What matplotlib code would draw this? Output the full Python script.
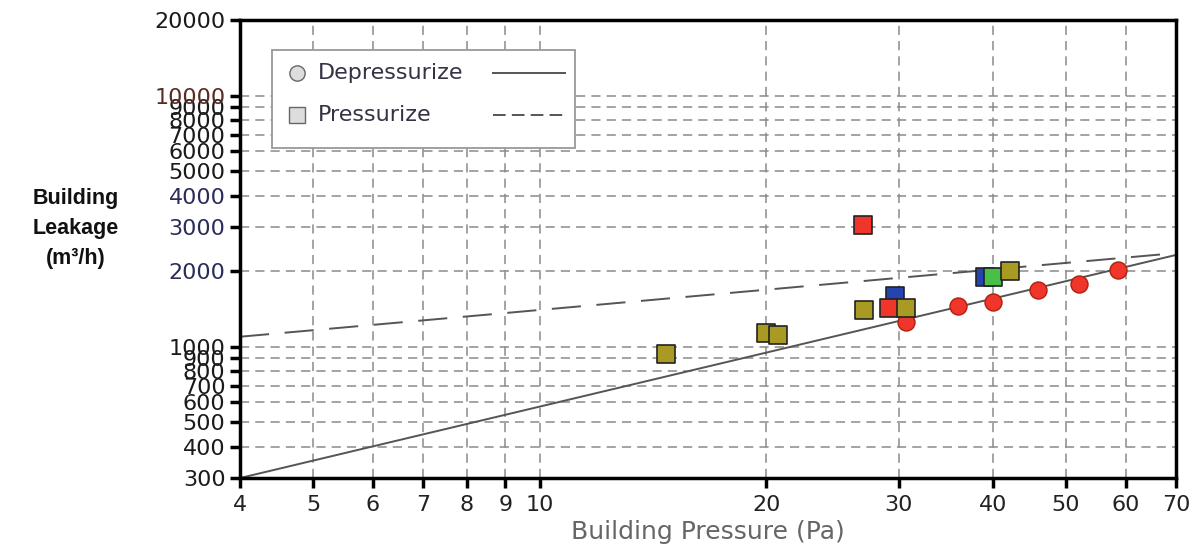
import matplotlib
matplotlib.use("Agg")
import matplotlib.pyplot as plt
from matplotlib.lines import Line2D
from matplotlib.patches import Rectangle

# Data
dep_x = [30.7, 35.9, 40.0, 45.9, 52.0, 58.6]
dep_y = [1255, 1453, 1508, 1683, 1779, 2021]

press_x = [14.7, 20.0, 20.7, 27.0, 29.6, 39.0, 40.0, 26.9, 29.1, 30.7, 42.1]
press_y = [935, 1135, 1113, 1400, 1594, 1900, 1900, 3055, 1428, 1428, 2000]
press_c = ['#a89a22', '#a89a22', '#a89a22', '#a89a22', '#2444b0', '#2444b0',
           '#48c048', '#f0352a', '#f0352a', '#a89a22', '#a89a22']

# fitted power-law lines (end points)
dep_fit_x = [4, 70]
dep_fit_y = [300, 2320]
press_fit_x = [4, 70]
press_fit_y = [1096, 2360]

xticks = [4, 5, 6, 7, 8, 9, 10, 20, 30, 40, 50, 60, 70]
yticks = [300, 400, 500, 600, 700, 800, 900, 1000, 2000, 3000, 4000, 5000,
          6000, 7000, 8000, 9000, 10000, 20000]
ytick_colors = {2000: '#2a2c5c', 3000: '#2a2c5c', 4000: '#2a2c5c', 10000: '#5a2a22'}

fig = plt.figure(figsize=(11.99, 5.46), dpi=100)
ax = fig.add_axes([0.2002, 0.1245, 0.7806, 0.8388])
ax.set_xscale('log')
ax.set_yscale('log')
ax.set_xlim(4, 70)
ax.set_ylim(300, 20000)

ax.set_xticks(xticks)
ax.set_xticklabels([str(v) for v in xticks])
ax.set_yticks(yticks)
ax.set_yticklabels([str(v) for v in yticks])
ax.minorticks_off()
ax.tick_params(axis='both', labelsize=16, length=7, width=2.5, direction='out',
               colors='black', labelcolor='#222222')
for lab, v in zip(ax.get_yticklabels(), yticks):
    lab.set_color(ytick_colors.get(v, '#1a1a1a'))
ax.tick_params(axis='x', pad=5)

for s in ax.spines.values():
    s.set_linewidth(2.5)

ax.grid(True, which='major', color='#8a8a8a', linestyle=(0, (6, 4)), linewidth=1.1)
ax.set_axisbelow(True)

ax.plot(dep_fit_x, dep_fit_y, color='#555555', lw=1.4, zorder=2)
ax.plot(press_fit_x, press_fit_y, color='#555555', lw=1.4, ls=(0, (15, 8)), zorder=2)

ax.scatter(dep_x, dep_y, s=150, marker='o', color='#f0352a', edgecolors='#b02010',
           linewidths=1.0, zorder=4)
for px, py, pc in zip(press_x, press_y, press_c):
    ax.scatter(px, py, s=150, marker='s', color=pc,
               edgecolors='#222222', linewidths=1.2, zorder=5)

ax.set_xlabel('Building Pressure (Pa)', fontsize=18, color='#666666', labelpad=4)
fig.text(0.0634, 0.582, 'Building\nLeakage\n(m\u00b3/h)', fontsize=15.5, fontweight='bold',
         family='Liberation Sans', ha='center', va='center', linespacing=1.55,
         color='#111111')

# legend drawn by hand: marker, text, line sample on the right
box = Rectangle((0.034, 0.72), 0.324, 0.214, transform=ax.transAxes,
                facecolor='white', edgecolor='#999999', lw=1.3, zorder=8)
ax.add_patch(box)
leg_rows = [('Depressurize', 'o', '-', 0.884), ('Pressurize', 's', (0, (6.5, 3.2)), 0.793)]
for label, mk, ls, yy in leg_rows:
    ax.add_line(Line2D([0.061], [yy], marker=mk, markersize=11, color='#dddddd',
                       markeredgecolor='#666666', markeredgewidth=1.0, ls='none',
                       transform=ax.transAxes, zorder=9))
    ax.text(0.083, yy, label, transform=ax.transAxes, fontsize=16, va='center',
            ha='left', color='#333344', zorder=9)
    ax.add_line(Line2D([0.270, 0.347], [yy, yy], color='#555555', lw=1.4, ls=ls,
                       transform=ax.transAxes, zorder=9))

fig.savefig('out.png', dpi=100)
